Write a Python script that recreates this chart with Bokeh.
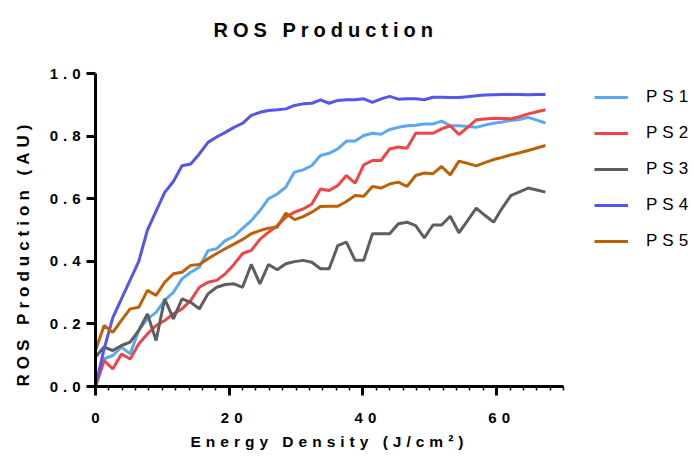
from bokeh.plotting import figure
from bokeh.models import Range1d, Legend, LegendItem, FixedTicker, NumeralTickFormatter, Title
from bokeh.embed import file_html
from bokeh.resources import INLINE

# ---- data ----
energy = [0.0, 1.29, 2.59, 3.88, 5.18, 6.47, 7.77, 9.06, 10.35, 11.65,
          12.94, 14.24, 15.53, 16.83, 18.12, 19.41, 20.71, 22.0, 23.3, 24.59,
          25.88, 27.18, 28.47, 29.77, 31.06, 32.36, 33.65, 34.94, 36.24, 37.53,
          38.83, 40.12, 41.42, 42.71, 44.0, 45.3, 46.59, 47.89, 49.18, 50.48,
          51.77, 53.06, 54.36, 55.65, 56.95, 58.24, 59.54, 60.83, 62.12, 63.42,
          64.71, 66.01, 67.3]

ps1 = [0.0, 0.088, 0.099, 0.126, 0.104, 0.179, 0.216, 0.237, 0.275, 0.301,
       0.344, 0.365, 0.381, 0.434, 0.44, 0.466, 0.48, 0.505, 0.53, 0.562,
       0.60, 0.615, 0.637, 0.685, 0.692, 0.706, 0.738, 0.745, 0.759, 0.784,
       0.784, 0.802, 0.809, 0.806, 0.821, 0.828, 0.833, 0.835, 0.839, 0.839,
       0.848, 0.833, 0.833, 0.831, 0.828, 0.835, 0.841, 0.845, 0.85, 0.853,
       0.86, 0.851, 0.842]
ps2 = [0.0, 0.083, 0.056, 0.104, 0.088, 0.136, 0.168, 0.195, 0.211, 0.232,
       0.248, 0.275, 0.317, 0.333, 0.339, 0.36, 0.39, 0.425, 0.435, 0.47,
       0.493, 0.514, 0.541, 0.557, 0.567, 0.583, 0.631, 0.626, 0.642, 0.674,
       0.65, 0.708, 0.722, 0.722, 0.759, 0.765, 0.761, 0.809, 0.809, 0.809,
       0.823, 0.833, 0.805, 0.828, 0.852, 0.855, 0.857, 0.856, 0.855, 0.862,
       0.871, 0.878, 0.884]
ps3 = [0.094, 0.126, 0.115, 0.131, 0.142, 0.179, 0.232, 0.147, 0.28, 0.216,
       0.28, 0.269, 0.248, 0.296, 0.317, 0.326, 0.328, 0.317, 0.39, 0.328,
       0.39, 0.373, 0.392, 0.399, 0.403, 0.397, 0.376, 0.376, 0.45, 0.461,
       0.403, 0.403, 0.488, 0.488, 0.488, 0.52, 0.525, 0.514, 0.475, 0.516,
       0.516, 0.544, 0.491, 0.53, 0.57, 0.547, 0.525, 0.57, 0.61, 0.622,
       0.634, 0.628, 0.621]
ps4 = [0.0, 0.12, 0.22, 0.28, 0.34, 0.40, 0.50, 0.56, 0.62, 0.655,
       0.705, 0.711, 0.743, 0.78, 0.797, 0.812, 0.828, 0.841, 0.866, 0.876,
       0.882, 0.884, 0.887, 0.898, 0.903, 0.905, 0.916, 0.905, 0.914, 0.916,
       0.916, 0.919, 0.908, 0.919, 0.927, 0.918, 0.919, 0.919, 0.916, 0.924,
       0.924, 0.923, 0.923, 0.926, 0.929, 0.931, 0.932, 0.933, 0.933, 0.933,
       0.932, 0.933, 0.933]
ps5 = [0.115, 0.195, 0.173, 0.211, 0.248, 0.253, 0.307, 0.291, 0.333, 0.36,
       0.365, 0.387, 0.39, 0.408, 0.425, 0.44, 0.455, 0.47, 0.488, 0.498,
       0.506, 0.509, 0.554, 0.533, 0.543, 0.557, 0.575, 0.576, 0.576, 0.591,
       0.61, 0.608, 0.639, 0.634, 0.647, 0.653, 0.639, 0.674, 0.682, 0.68,
       0.703, 0.676, 0.72, 0.713, 0.705, 0.715, 0.725, 0.732, 0.74, 0.747,
       0.754, 0.762, 0.77]

series_names = ["PS1", "PS2", "PS3", "PS4", "PS5"]
series_values = [ps1, ps2, ps3, ps4, ps5]
series_colors = ["#58A8F6", "#F24444", "#5E5E5E", "#5555F2", "#BF6006"]

x_ticks = [0, 20, 40, 60]
x_minor_ticks = [0, 2, 4, 6, 8, 10, 12, 14, 16, 18, 20, 22, 24, 26, 28, 30, 32, 34,
                 36, 38, 40, 42, 44, 46, 48, 50, 52, 54, 56, 58, 60, 62, 64, 66, 68, 70]
y_ticks = [0.0, 0.2, 0.4, 0.6, 0.8, 1.0]
x_axis_max = 70
y_axis_max = 1.0

title_text = "ROS Production"
x_label = "Energy Density (J/cm²)"
y_label = "ROS Production (AU)"

FONT = "Liberation Sans"

# Layout (pixels): axis box x=0 at 95 -> x=70 at 563; y=0 at 386 -> y=1 at 73.
# The frame is extended right (legend lives there) and up (room for the title);
# the axes are bounded to the data box.
W, H = 694, 457
LEFT, RIGHT_PAD = 95, 0
AX_RIGHT, AX_TOP, AX_BOTTOM = 563, 73, 386
FRAME_TOP = 59
px_per_x = (AX_RIGHT - LEFT) / x_axis_max
px_per_y = (AX_BOTTOM - AX_TOP) / y_axis_max
x_end = (W - RIGHT_PAD - LEFT) / px_per_x
y_end = (AX_BOTTOM - FRAME_TOP) / px_per_y

p = figure(width=W, height=H, output_backend="svg", toolbar_location=None,
           x_range=Range1d(0, x_end), y_range=Range1d(0, y_end),
           min_border_left=LEFT, min_border_right=RIGHT_PAD,
           min_border_top=FRAME_TOP, min_border_bottom=H - AX_BOTTOM,
           background_fill_color="white", border_fill_color="white")
# the reference uses widely letter-spaced text
p.stylesheets = [":host { letter-spacing: 5px; }"]

p.title.text = title_text
p.title.align = "left"
p.title.vertical_align = "top"
p.title.offset = 118
p.title.text_font = FONT
p.title.text_font_size = "20px"
p.title.text_font_style = "bold"
p.title.text_color = "black"
p.title.standoff = 34

p.grid.visible = False
p.outline_line_color = None

for ax in (p.xaxis[0], p.yaxis[0]):
    ax.axis_line_width = 3
    ax.axis_line_color = "black"
    ax.major_tick_line_width = 3
    ax.major_tick_line_color = "black"
    ax.major_tick_in = 0
    ax.major_tick_out = 9
    ax.major_label_text_font = FONT
    ax.major_label_text_font_style = "bold"
    ax.major_label_text_font_size = "15px"
    ax.major_label_text_color = "black"

p.xaxis.bounds = (0, x_axis_max)
p.xaxis.ticker = FixedTicker(ticks=x_ticks, minor_ticks=x_minor_ticks)
p.xaxis.minor_tick_in = 0
p.xaxis.minor_tick_out = 4
p.xaxis.minor_tick_line_width = 1.5
p.xaxis.minor_tick_line_color = "black"
p.xaxis.major_label_standoff = 17

p.yaxis.bounds = (0, y_axis_max)
p.yaxis.ticker = FixedTicker(ticks=y_ticks)
p.yaxis.formatter = NumeralTickFormatter(format="0.0")
p.yaxis.minor_tick_line_color = None
p.yaxis.major_label_standoff = 16

xt = Title(text=x_label, align="left", offset=95, standoff=10,
           text_font=FONT, text_font_size="15.5px", text_font_style="bold", text_color="black")
p.add_layout(xt, "below")
yt = Title(text=y_label, align="left", vertical_align="top", offset=0, standoff=23,
           text_font=FONT, text_font_size="17px", text_font_style="bold", text_color="black")
p.add_layout(yt, "left")

items = []
for name, vals, col in zip(series_names, series_values, series_colors):
    r = p.line(energy, vals, line_color=col, line_width=3)
    items.append(LegendItem(label=name, renderers=[r]))

legend = Legend(items=items, location=(499, 127), orientation="vertical",
                glyph_width=34, glyph_height=36, label_height=36, label_standoff=18,
                spacing=0, padding=0, margin=0,
                border_line_alpha=0, background_fill_alpha=0,
                label_text_font=FONT, label_text_font_size="17px", label_text_color="black")
p.add_layout(legend)

open("out.html", "w").write(file_html(p, INLINE))
